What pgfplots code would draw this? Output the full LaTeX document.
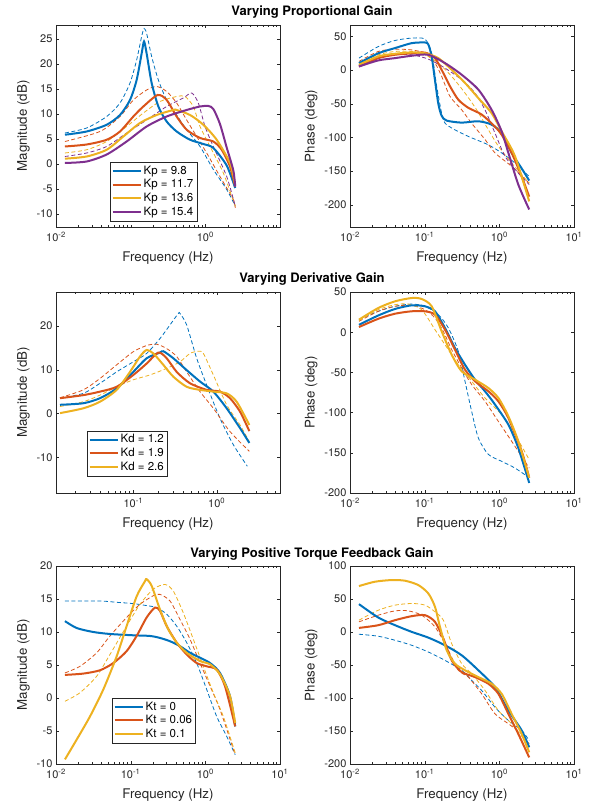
\documentclass[border=0pt]{standalone}
\usepackage{fontspec}
\setmainfont{TeX Gyre Heros}
\usepackage{pgfplots}
\pgfplotsset{compat=1.18}

\definecolor{mblue}{rgb}{0,0.447,0.741}
\definecolor{morange}{rgb}{0.85,0.325,0.098}
\definecolor{myellow}{rgb}{0.929,0.694,0.125}
\definecolor{mpurple}{rgb}{0.494,0.184,0.556}

% x values are log10 of the frequency in Hz
\pgfplotsset{
  bode/.style={
    scale only axis, width=224pt,
    xmin=-2, xmax=1,
    tick align=inside,
    axis line style={black!85},
    major tick style={black!85}, minor tick style={black!85},
    major tick length=3pt, minor tick length=1.8pt,
    tick label style={font=\fontsize{11}{13}\selectfont, text=black!85},
    xticklabel style={yshift=-2pt},
    label style={font=\fontsize{13.3}{15}\selectfont, text=black!85},
    xlabel style={yshift=-3pt},
    /pgf/number format/assume math mode=true,
    xlabel={Frequency (Hz)},
    minor xtick={-1.699,-1.523,-1.398,-1.301,-1.222,-1.155,-1.097,-1.046,
                 -0.699,-0.523,-0.398,-0.301,-0.222,-0.155,-0.097,-0.046,
                 0.301,0.477,0.602,0.699,0.778,0.845,0.903,0.954},
    xtick={-2,-1,0,1},
    xticklabels={10\textsuperscript{-2},10\textsuperscript{-1},10\textsuperscript{0},10\textsuperscript{1}},
    legend image code/.code={\draw[#1] (0pt,0pt) -- (28pt,0pt);},
    legend cell align=left,
    legend style={font=\fontsize{11.5}{13}\selectfont, draw=black!85,
      inner sep=1.5pt, row sep=0pt, anchor=south west},
  },
  sol/.style={line width=2pt, smooth, tension=0.45},
  das/.style={line width=0.8pt, dash pattern=on 4pt off 2.5pt, smooth, tension=0.45, forget plot},
}

\begin{document}
\begin{tikzpicture}
\useasboundingbox (0,0) rectangle (595pt,810pt);

\node[font=\bfseries\fontsize{13}{15}\selectfont] at (312pt,798pt) {Varying Proportional Gain};
\node[font=\bfseries\fontsize{13}{15}\selectfont] at (312pt,531pt) {Varying Derivative Gain};
\node[font=\bfseries\fontsize{13}{15}\selectfont] at (312pt,256pt) {Varying Positive Torque Feedback Gain};

% ---------------- row 1: proportional gain ----------------
\begin{axis}[bode, at={(56pt,583pt)}, anchor=south west, height=202pt,
  ymin=-12.6, ymax=27.8, ytick={-10,-5,0,5,10,15,20,25},
  xtick={-2,0}, xticklabels={10\textsuperscript{-2},10\textsuperscript{0}},
  minor xtick={-1.699,-1.523,-1.398,-1.301,-1.222,-1.155,-1.097,-1.046,-1,
               -0.699,-0.523,-0.398,-0.301,-0.222,-0.155,-0.097,-0.046,
               0.301,0.477,0.602,0.699,0.778,0.845,0.903,0.954},
  ylabel={Magnitude (dB)},
  legend style={at={(0.241,0.03)}}]
\addplot[das, mblue] coordinates {(-1.88,6.2) (-1.589,7.2) (-1.321,9.5) (-1.143,12.2) (-1.009,16.2) (-0.920,20.8) (-0.853,25.5) (-0.821,27.1) (-0.786,26.1) (-0.719,21.5) (-0.629,16.8) (-0.518,12.8) (-0.384,9.8) (-0.250,6.85) (-0.071,3.5) (0.107,-1.1) (0.286,-5.1) (0.40,-8.4)};
\addplot[das, morange] coordinates {(-1.88,4.5) (-1.411,6.5) (-1.143,9.5) (-0.964,12.8) (-0.786,14.8) (-0.652,15.5) (-0.518,14.5) (-0.384,12.2) (-0.250,8.8) (-0.116,5.5) (0.018,2.2) (0.196,-2.5) (0.375,-7.1) (0.40,-8.8)};
\addplot[das, myellow] coordinates {(-1.88,2.2) (-1.589,2.85) (-1.321,4.5) (-1.054,7.5) (-0.830,10.2) (-0.607,12.5) (-0.384,13.5) (-0.272,13.5) (-0.161,11.5) (-0.071,7.5) (0.063,3.5) (0.241,-1.8) (0.40,-8.4)};
\addplot[das, mpurple] coordinates {(-1.88,1.5) (-1.589,2.2) (-1.321,3.5) (-1.054,6.2) (-0.786,8.8) (-0.518,11.5) (-0.295,13.2) (-0.183,14.2) (-0.094,12.2) (-0.004,7.5) (0.107,3.5) (0.286,-2.5) (0.40,-8.4)};
\addplot[sol, mblue] coordinates {(-1.88,5.85) (-1.589,6.5) (-1.321,7.85) (-1.143,9.8) (-1.009,12.8) (-0.920,16.8) (-0.853,22.1) (-0.821,24.5) (-0.786,22.1) (-0.719,16.2) (-0.629,11.5) (-0.518,8.5) (-0.384,6.5) (-0.205,4.85) (-0.027,4.0) (0.107,3.2) (0.286,-0.3) (0.40,-4.8)};
\addlegendentry{Kp = 9.8}
\addplot[sol, morange] coordinates {(-1.88,3.5) (-1.589,3.9) (-1.321,4.85) (-1.143,6.5) (-0.964,9.5) (-0.830,11.5) (-0.638,13.8) (-0.518,12.8) (-0.384,9.5) (-0.250,6.85) (-0.071,5.2) (0.107,4.5) (0.219,2.85) (0.330,-0.5) (0.40,-4.5)};
\addlegendentry{Kp = 11.7}
\addplot[sol, myellow] coordinates {(-1.88,1.06) (-1.589,1.5) (-1.321,2.85) (-1.098,5.5) (-0.875,8.2) (-0.652,9.8) (-0.429,10.8) (-0.384,10.8) (-0.205,9.8) (-0.027,7.85) (0.152,4.85) (0.330,0.2) (0.40,-4.1)};
\addlegendentry{Kp = 13.6}
\addplot[sol, mpurple] coordinates {(-1.88,0.2) (-1.589,0.5) (-1.321,1.9) (-1.054,4.5) (-0.786,7.5) (-0.518,9.5) (-0.250,10.8) (-0.071,11.5) (0.040,11.6) (0.107,11.0) (0.196,8.0) (0.286,3.3) (0.375,-1.3) (0.40,-4.5)};
\addlegendentry{Kp = 15.4}
\end{axis}

\begin{axis}[bode, at={(350pt,583pt)}, anchor=south west, height=202pt,
  ymin=-233, ymax=67, ytick={-200,-150,-100,-50,0,50},
  ylabel={Phase (deg)}]
\addplot[das, mblue] coordinates {(-1.88,17.8) (-1.621,35) (-1.397,44) (-1.174,47.5) (-0.996,46) (-0.906,25) (-0.839,-24) (-0.750,-74) (-0.638,-86) (-0.415,-98.5) (-0.147,-111) (0.031,-123) (0.210,-138) (0.40,-158)};
\addplot[das, morange] coordinates {(-1.88,12.9) (-1.621,27.7) (-1.397,31) (-1.174,30) (-0.996,25) (-0.862,10.4) (-0.772,-9.4) (-0.661,-39) (-0.504,-59) (-0.371,-79) (-0.192,-103) (-0.058,-123) (0.165,-143) (0.40,-168)};
\addplot[das, myellow] coordinates {(-1.88,10.4) (-1.621,22.8) (-1.397,27.7) (-1.174,27.7) (-0.996,22.8) (-0.817,10.4) (-0.638,-9.4) (-0.460,-34) (-0.304,-59) (-0.147,-88.6) (-0.013,-113) (0.165,-138) (0.40,-168)};
\addplot[das, mpurple] coordinates {(-1.88,7.9) (-1.621,17.8) (-1.397,22.8) (-1.174,22.8) (-0.951,16.3) (-0.728,3) (-0.504,-14.4) (-0.326,-34) (-0.192,-59) (-0.058,-93.6) (0.076,-128) (0.254,-153) (0.40,-170)};
\addplot[sol, mblue] coordinates {(-1.88,10.4) (-1.621,25) (-1.397,32.7) (-1.174,40) (-0.996,41) (-0.951,38) (-0.906,20) (-0.862,-15) (-0.817,-50) (-0.772,-68) (-0.705,-75) (-0.504,-78) (-0.281,-76) (-0.103,-81) (0.031,-93.6) (0.165,-123) (0.299,-146) (0.40,-164)};
\addplot[sol, morange] coordinates {(-1.88,5.4) (-1.621,17.8) (-1.397,22.8) (-1.174,25) (-0.996,26) (-0.862,17.8) (-0.750,-4.5) (-0.661,-24) (-0.549,-44) (-0.415,-56) (-0.237,-66) (-0.058,-84) (0.031,-96) (0.165,-123) (0.299,-158) (0.40,-188)};
\addplot[sol, myellow] coordinates {(-1.88,7.9) (-1.621,20.3) (-1.397,24.3) (-1.174,26.2) (-0.996,25) (-0.817,17.8) (-0.638,0.5) (-0.460,-19) (-0.281,-41.6) (-0.103,-64) (0.031,-91) (0.210,-128) (0.40,-195)};
\addplot[sol, mpurple] coordinates {(-1.88,5.4) (-1.621,14.4) (-1.397,17.8) (-1.174,21.3) (-0.951,22.8) (-0.728,10.4) (-0.504,-6.9) (-0.281,-29) (-0.103,-59) (0.031,-91) (0.121,-123) (0.254,-170) (0.40,-207)};
\end{axis}

% ---------------- row 2: derivative gain ----------------
\begin{axis}[bode, at={(56pt,317pt)}, anchor=south west, height=201pt,
  xmin=-1.928, xmax=0.76,
  ymin=-18.1, ymax=27.7, ytick={-10,0,10,20},
  xtick={-1,0}, xticklabels={10\textsuperscript{-1},10\textsuperscript{0}},
  minor xtick={-1.699,-1.523,-1.398,-1.301,-1.222,-1.155,-1.097,-1.046,
               -0.699,-0.523,-0.398,-0.301,-0.222,-0.155,-0.097,-0.046,
               0.301,0.477,0.602,0.699},
  ylabel={Magnitude (dB)},
  legend style={at={(0.138,0.085)}}]
\addplot[das, mblue] coordinates {(-1.88,3.5) (-1.60,4.6) (-1.40,6.9) (-1.20,9.5) (-1.00,11.8) (-0.84,13.7) (-0.68,17.1) (-0.56,20.2) (-0.46,22.8) (-0.44,22.8) (-0.36,20.2) (-0.24,12.6) (-0.12,6.5) (0.04,-1.1) (0.20,-7.1) (0.368,-12)};
\addplot[das, morange] coordinates {(-1.88,3.6) (-1.60,5.4) (-1.40,8) (-1.20,11.1) (-1.00,14.1) (-0.84,15.5) (-0.72,15.8) (-0.60,14.8) (-0.48,13) (-0.36,9.5) (-0.20,5) (-0.04,1.2) (0.16,-4.1) (0.392,-8.6)};
\addplot[das, myellow] coordinates {(-1.88,1.6) (-1.60,2.7) (-1.40,4.2) (-1.20,6.1) (-1.00,7.7) (-0.80,8.8) (-0.60,10.3) (-0.44,11.8) (-0.32,13.7) (-0.22,14.2) (-0.16,13.7) (-0.04,8.8) (0.12,2) (0.28,-2.6) (0.392,-6.4)};
\addplot[sol, mblue] coordinates {(-1.88,2.0) (-1.60,2.35) (-1.40,3.5) (-1.20,5.75) (-1.00,9.5) (-0.84,12.6) (-0.68,13.9) (-0.64,14.2) (-0.52,12.6) (-0.36,9.9) (-0.20,7.3) (-0.04,5) (0.12,1.2) (0.28,-3.3) (0.392,-6.7)};
\addlegendentry{Kd = 1.2}
\addplot[sol, morange] coordinates {(-1.88,3.5) (-1.60,4.2) (-1.40,5) (-1.20,6.1) (-1.00,8.8) (-0.84,11.4) (-0.70,13.9) (-0.60,12.6) (-0.48,9.5) (-0.32,6.9) (-0.12,5.4) (0.04,5) (0.16,3.5) (0.28,0.45) (0.392,-4)};
\addlegendentry{Kd = 1.9}
\addplot[sol, myellow] coordinates {(-1.88,0.1) (-1.60,1.2) (-1.40,2.7) (-1.20,5.4) (-1.04,9.5) (-0.92,13) (-0.84,14.5) (-0.76,13.7) (-0.64,11.1) (-0.52,8.4) (-0.36,6.1) (-0.20,5.4) (-0.04,5) (0.12,4.6) (0.24,2.7) (0.392,-2.6)};
\addlegendentry{Kd = 2.6}
\end{axis}

\begin{axis}[bode, at={(350pt,317pt)}, anchor=south west, height=201pt,
  ymin=-200, ymax=50, ytick={-200,-150,-100,-50,0,50},
  ylabel={Phase (deg)}]
\addplot[das, mblue] coordinates {(-1.88,15.6) (-1.621,26) (-1.397,32.2) (-1.174,35) (-0.996,32.2) (-0.817,21.8) (-0.683,5.3) (-0.549,-23.8) (-0.460,-61) (-0.371,-98.4) (-0.281,-131.6) (-0.147,-152) (0.031,-160.6) (0.210,-169) (0.40,-181)};
\addplot[das, morange] coordinates {(-1.88,13.5) (-1.621,26) (-1.397,32.2) (-1.174,33.4) (-0.996,28) (-0.862,17.7) (-0.750,1) (-0.638,-21.7) (-0.504,-44.5) (-0.371,-65) (-0.192,-86) (-0.013,-111) (0.165,-135.7) (0.40,-169)};
\addplot[das, myellow] coordinates {(-1.88,14.3) (-1.621,28) (-1.397,34.2) (-1.219,35) (-1.040,28) (-0.862,3.2) (-0.728,-15.5) (-0.549,-40.4) (-0.371,-61) (-0.192,-81.8) (0.031,-102.6) (0.210,-127.4) (0.40,-158.5)};
\addplot[sol, mblue] coordinates {(-1.88,9.2) (-1.621,20.8) (-1.397,28.9) (-1.174,33.4) (-0.996,32.2) (-0.862,26) (-0.728,5.3) (-0.594,-19.6) (-0.460,-40.4) (-0.326,-59) (-0.192,-73.5) (-0.058,-90) (0.121,-115) (0.254,-144) (0.40,-187.5)};
\addplot[sol, morange] coordinates {(-1.88,6.4) (-1.621,16.7) (-1.397,23) (-1.174,26) (-0.996,26) (-0.862,21.8) (-0.728,3.2) (-0.594,-21.7) (-0.460,-46.6) (-0.326,-61) (-0.147,-73.5) (-0.013,-86) (0.121,-106.7) (0.299,-148) (0.40,-181)};
\addplot[sol, myellow] coordinates {(-1.88,15.6) (-1.621,30.1) (-1.397,38.4) (-1.174,42.5) (-1.040,41.3) (-0.906,32.2) (-0.772,1) (-0.638,-28) (-0.504,-48.7) (-0.326,-59) (-0.147,-69.4) (-0.013,-81.8) (0.121,-104.6) (0.254,-135.7) (0.40,-181)};
\end{axis}

% ---------------- row 3: torque feedback gain ----------------
\begin{axis}[bode, at={(56pt,46pt)}, anchor=south west, height=198pt,
  ymin=-10, ymax=20, ytick={-10,-5,0,5,10,15,20},
  ylabel={Magnitude (dB)},
  legend style={at={(0.25,0.106)}}]
\addplot[das, mblue] coordinates {(-1.88,14.7) (-1.411,14.7) (-1.188,14.5) (-0.964,14.3) (-0.786,14) (-0.652,13.7) (-0.518,12.7) (-0.384,10.9) (-0.250,8.4) (-0.116,5.3) (0.018,1.3) (0.152,-2.8) (0.286,-5.8) (0.40,-8.6)};
\addplot[das, morange] coordinates {(-1.88,3.8) (-1.679,4.8) (-1.455,6.85) (-1.277,9.4) (-1.054,12.2) (-0.875,14.2) (-0.696,15.5) (-0.607,15.7) (-0.473,14.7) (-0.339,11.9) (-0.205,8.9) (-0.071,5.3) (0.063,1.8) (0.196,-1.75) (0.40,-8.6)};
\addplot[das, myellow] coordinates {(-1.88,-0.5) (-1.679,0.8) (-1.455,3.3) (-1.277,6.6) (-1.054,10.9) (-0.875,14.2) (-0.696,16.5) (-0.540,17.2) (-0.429,16.2) (-0.295,12.9) (-0.161,8.9) (-0.027,4.8) (0.107,0.8) (0.241,-2.8) (0.40,-8.3)};
\addplot[sol, mblue] coordinates {(-1.88,11.65) (-1.723,10.6) (-1.500,10) (-1.277,9.7) (-0.964,9.5) (-0.741,9.4) (-0.607,9.1) (-0.473,8.6) (-0.339,7.85) (-0.205,6.85) (-0.071,6.1) (0.063,5.3) (0.196,3.8) (0.330,0.3) (0.40,-4.3)};
\addlegendentry{Kt = 0}
\addplot[sol, morange] coordinates {(-1.88,3.5) (-1.634,3.7) (-1.411,4.2) (-1.232,5.3) (-1.054,7.1) (-0.920,9.4) (-0.786,12.2) (-0.674,13.7) (-0.607,13.2) (-0.518,10.9) (-0.384,8.4) (-0.250,6.6) (-0.116,5.3) (0.018,4.8) (0.152,4.3) (0.263,1.8) (0.40,-4.3)};
\addlegendentry{Kt = 0.06}
\addplot[sol, myellow] coordinates {(-1.88,-9.3) (-1.723,-6.3) (-1.545,-2.8) (-1.366,1.3) (-1.188,6.3) (-1.054,10.9) (-0.920,15.4) (-0.808,17.7) (-0.786,18) (-0.719,17) (-0.607,13.4) (-0.496,10.4) (-0.384,8.4) (-0.250,6.85) (-0.071,5.6) (0.063,5.1) (0.196,3.6) (0.330,0.3) (0.40,-3.8)};
\addlegendentry{Kt = 0.1}
\end{axis}

\begin{axis}[bode, at={(350pt,46pt)}, anchor=south west, height=198pt,
  ymin=-200, ymax=100, ytick={-200,-150,-100,-50,0,50,100},
  ylabel={Phase (deg)}]
\addplot[das, mblue] coordinates {(-1.88,-3.4) (-1.621,-6.4) (-1.397,-12.5) (-1.174,-20.1) (-0.951,-30.3) (-0.728,-43) (-0.504,-58) (-0.371,-73.3) (-0.237,-88.5) (-0.058,-114) (0.121,-134) (0.299,-149) (0.40,-164.6)};
\addplot[das, morange] coordinates {(-1.88,15.4) (-1.621,25.5) (-1.397,32) (-1.219,32) (-1.040,25.5) (-0.862,7.8) (-0.705,-22.6) (-0.549,-58) (-0.415,-68.3) (-0.237,-93.6) (-0.058,-124) (0.121,-139) (0.299,-154.4) (0.40,-169.6)};
\addplot[das, myellow] coordinates {(-1.88,17.9) (-1.621,33) (-1.397,40.7) (-1.174,43.2) (-0.996,40.7) (-0.862,30.6) (-0.750,18) (-0.638,-17.6) (-0.504,-48) (-0.371,-63.2) (-0.192,-88.5) (-0.013,-119) (0.165,-139.2) (0.40,-172)};
\addplot[sol, mblue] coordinates {(-1.88,42.2) (-1.621,21.9) (-1.397,10.3) (-1.174,0.2) (-0.951,-8.5) (-0.728,-20.1) (-0.504,-35.3) (-0.281,-58) (-0.058,-83.5) (0.121,-119) (0.299,-149) (0.40,-174.7)};
\addplot[sol, morange] coordinates {(-1.88,6.2) (-1.621,10.3) (-1.397,17.9) (-1.174,24) (-0.996,25.5) (-0.862,15.4) (-0.750,-9.9) (-0.638,-43) (-0.504,-60.7) (-0.326,-68.3) (-0.147,-78.4) (-0.013,-93.6) (0.121,-124) (0.254,-154.4) (0.40,-190)};
\addplot[sol, myellow] coordinates {(-1.88,69.6) (-1.665,76.2) (-1.442,78.7) (-1.263,77.7) (-1.085,71.1) (-0.951,58.4) (-0.862,38.2) (-0.795,7.8) (-0.705,-27.7) (-0.594,-48) (-0.460,-58) (-0.281,-68.3) (-0.103,-78.4) (0.031,-93.6) (0.165,-124) (0.299,-154.4) (0.40,-182.3)};
\end{axis}
\end{tikzpicture}
\end{document}
